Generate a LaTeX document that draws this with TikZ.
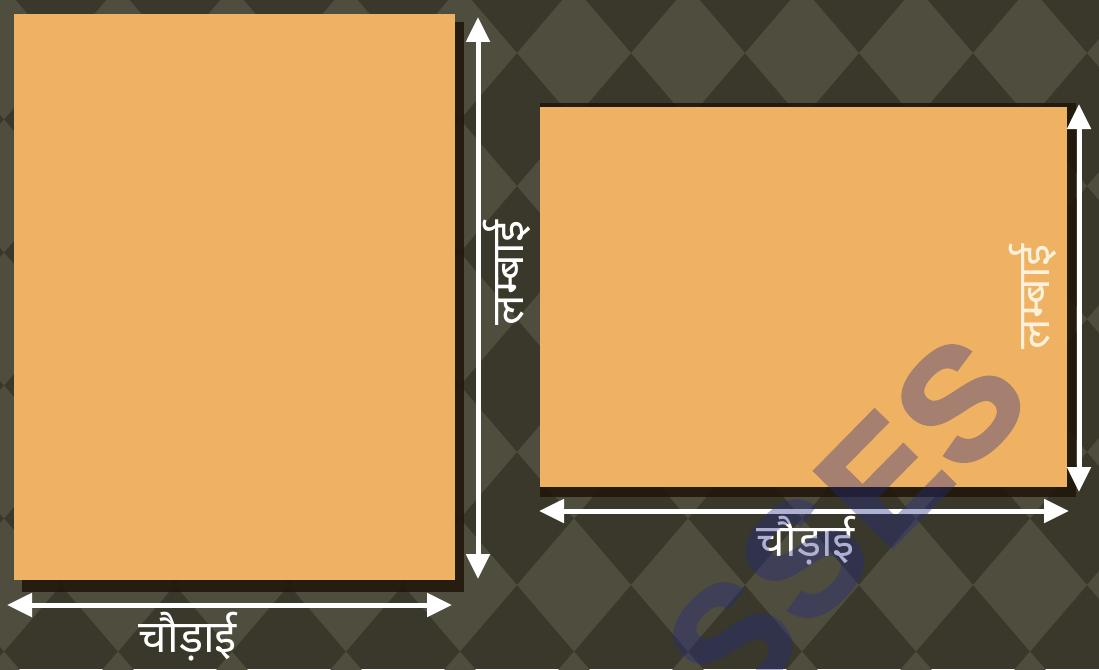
\documentclass[tikz,border=0pt]{standalone}
\usepackage{fontspec}
\usetikzlibrary{arrows.meta}
\newfontfamily\deva[Script=Devanagari]{Noto Sans}
\newfontfamily\wmfont[BoldFeatures={FakeBold=2}]{Liberation Sans}
\definecolor{bgdark}{HTML}{39382A}
\definecolor{bglight}{HTML}{4F4E3E}
\definecolor{paper}{HTML}{EFB162}
\definecolor{shadowc}{HTML}{1E1608}
\definecolor{wmblue}{RGB}{35,40,135}
\definecolor{cream}{HTML}{FFF1DA}
\begin{document}
\begin{tikzpicture}[x=1pt,y=-1pt,
  dim/.style={white, line width=5pt, {Triangle[width=23pt,length=25pt]}-{Triangle[width=23pt,length=25pt]}},
  lbl/.style={font=\deva\fontsize{45}{52}\selectfont, text=white, inner sep=0pt},
  sheet/.style={fill=paper, draw=none, inner sep=0pt, anchor=north west},
  shade/.style={fill=shadowc, opacity=0.85},
  wm/.style={font=\wmfont\bfseries\fontsize{158}{158}\selectfont, text=wmblue, rotate=45.5, inner sep=0pt}
]
\useasboundingbox (0,0) rectangle (1099,669);
\begin{scope}
\clip (0,0) rectangle (1099,669);
% background diamonds
\fill[bgdark] (0,0) rectangle (1099,669);
\foreach \i in {-6,...,5} \foreach \j in {-1,...,5} {
  \fill[bglight] ({574+114*\i-57},{53+133*\j}) -- ++(57,-66.5) -- ++(57,66.5) -- ++(-57,66.5) -- cycle;
}
% shadows
\fill[shade] (22,22) rectangle (464,592);
\fill[shade] (540,103) rectangle (1076,497);
% sheets
\node[sheet, minimum width=441pt, minimum height=566pt] (left) at (14,14) {};
\node[sheet, minimum width=527pt, minimum height=380pt] (right) at (540,107) {};
% dimension arrows, left
\coordinate (lv1) at (478,17);
\coordinate (lv2) at (478,579);
\coordinate (lh1) at (7,605);
\coordinate (lh2) at (452,605);
\draw[dim] (lv1) -- (lv2);
\draw[dim] (lh1) -- (lh2);
% dimension arrows, right
\coordinate (rv1) at (1079,104);
\coordinate (rv2) at (1079,492);
\coordinate (rh1) at (539,511);
\coordinate (rh2) at (1069,511);
\draw[dim] (rv1) -- (rv2);
\draw[dim] (rh1) -- (rh2);
% labels
\node[lbl] (lw) at (188,637) {चौड़ाई};
\node[lbl, rotate=90] (ll) at (507,273) {लम्बाई};
\node[lbl] (rw) at (806,541) {चौड़ाई};
\node[lbl, rotate=90, text=cream] (rl) at (1033,297) {लम्बाई};
% watermark
\begin{scope}[transparency group, opacity=0.36]
\node[wm] (w1) at (732,641) {S};
\node[wm] (w2) at (804,558) {S};
\node[wm] (w3) at (883,479) {E};
\node[wm] (w4) at (960,403) {S};
\end{scope}
\end{scope}
\end{tikzpicture}
\end{document}
